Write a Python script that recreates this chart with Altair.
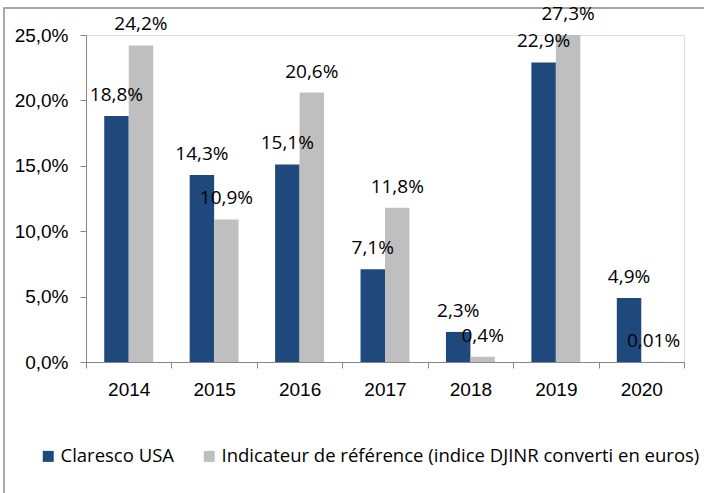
import altair as alt
import pandas as pd

years = ["2014", "2015", "2016", "2017", "2018", "2019", "2020"]
claresco = [18.8, 14.3, 15.1, 7.1, 2.3, 22.9, 4.9]
reference = [24.2, 10.9, 20.6, 11.8, 0.4, 27.3, 0.01]
series_names = ["Claresco USA", "Indicateur de référence (indice DJINR converti en euros)"]
series_colors = ["#1F497D", "#BFBFBF"]


def fmt(v):
    s = f"{v:.2f}" if v < 0.1 else f"{v:.1f}"
    return s.replace(".", ",") + "%"


rows = []
for y, a, b in zip(years, claresco, reference):
    rows.append({"year": y, "series": series_names[0], "value": a, "label": fmt(a)})
    rows.append({"year": y, "series": series_names[1], "value": b, "label": fmt(b)})
df = pd.DataFrame(rows)

FONT = "Open Sans"
YMAX = 25

base = alt.Chart(df).encode(
    x=alt.X(
        "year:N",
        sort=years,
        scale=alt.Scale(paddingInner=0, paddingOuter=0),
        axis=alt.Axis(
            title=None,
            labelAngle=0,
            tickBand="extent",
            tickSize=6,
            labelPadding=12,
            domainColor="#868686",
            tickColor="#868686",
            labelFontSize=19,
        ),
    ),
    xOffset=alt.XOffset(
        "series:N",
        sort=series_names,
        scale=alt.Scale(paddingInner=0, paddingOuter=0.745),
    ),
)

bars = base.mark_bar(clip=True).encode(
    y=alt.Y(
        "value:Q",
        scale=alt.Scale(domain=[0, YMAX], nice=False),
        axis=alt.Axis(
            title=None,
            values=[0, 5, 10, 15, 20, 25],
            labelExpr="replace(format(datum.value, '.1f'), '.', ',') + '%'",
            grid=False,
            tickSize=6,
            labelPadding=12,
            domainColor="#868686",
            tickColor="#868686",
            labelFontSize=19,
        ),
    ),
    color=alt.Color(
        "series:N",
        sort=series_names,
        scale=alt.Scale(domain=series_names, range=series_colors),
        legend=alt.Legend(
            title=None,
            orient="none",
            direction="horizontal",
            legendX=-47,
            legendY=412,
            symbolType="square",
            symbolSize=121,
            symbolStrokeWidth=0,
            labelFontSize=18.5,
            labelFont=FONT,
            labelLimit=0,
            columnPadding=26,
            labelOffset=3,
        ),
    ),
)

labels = base.transform_calculate(
    yc=f"min(datum.value, {YMAX})"
).mark_text(baseline="middle", dy=-21, fontSize=19, font=FONT, color="#000000").encode(
    y=alt.Y("yc:Q"),
    text="label:N",
)

frame = alt.Chart(alt.Data(values=[{}])).mark_rect(
    fill=None, stroke="#8c8c8c", strokeWidth=1.5
).encode(
    x=alt.value(-82),
    y=alt.value(-27),
    x2=alt.value(640),
    y2=alt.value(480),
)

chart = alt.layer(frame, bars, labels).properties(
    width=598,
    height=327,
    autosize=alt.AutoSizeParams(type="none"),
    padding={"left": 86, "top": 35, "right": 20, "bottom": 131},
).configure_view(stroke=None).configure_axis(
    labelFont=FONT, labelColor="#000000"
).configure(background="#ffffff")

chart.save("out.html", embed_options={"renderer": "svg", "actions": False})
